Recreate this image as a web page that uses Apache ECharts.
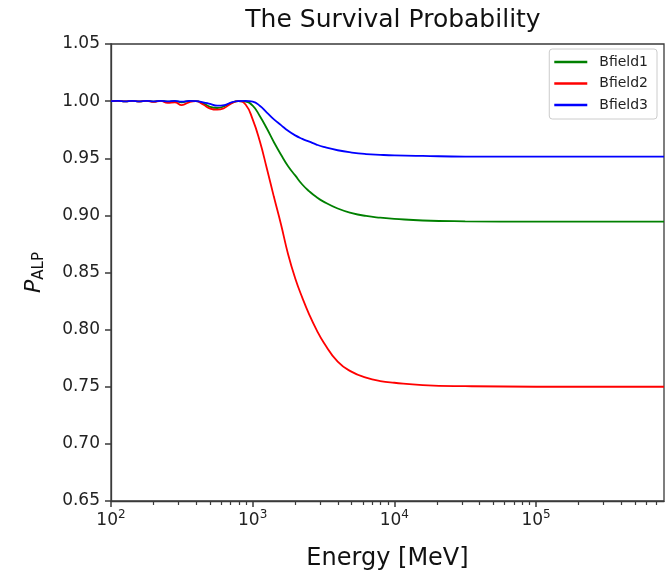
<!DOCTYPE html>
<html>
<head>
<meta charset="utf-8">
<title>The Survival Probability</title>
<script src="https://cdn.jsdelivr.net/npm/echarts@6/dist/echarts.min.js"></script>
<style>
  html, body { margin: 0; padding: 0; background: #fff; }
  #chart { width: 672px; height: 576px; }
</style>
</head>
<body>
<div id="chart"></div>
<script>
// Photon energies (MeV), log-spaced
const energy = [
  100, 112, 126, 141, 158, 178, 200, 224, 251, 282, 316, 355, 398, 447, 501, 562, 631, 708, 794, 891,
  1000, 1122, 1259, 1413, 1585, 1778, 1995, 2239, 2512, 2818, 3162,
  3981, 5012, 6310, 7943, 10000, 15849, 31623, 100000, 316228, 800000
];

// ALP survival probability for three magnetic field models
const bfield1 = [
  1.0, 1.0003, 0.9997, 1.0003, 0.9997, 1.0003, 0.9996, 1.0003, 0.9995, 1.0, 0.999, 1.0, 1.0, 0.998, 0.995, 0.994, 0.9955, 0.9985, 1.0, 0.9995,
  0.996, 0.987, 0.976, 0.964, 0.953, 0.943, 0.935, 0.927, 0.921, 0.916, 0.912,
  0.906, 0.902, 0.8995, 0.898, 0.897, 0.8955, 0.8948, 0.8945, 0.8945, 0.8945
];
const bfield2 = [
  1.0, 1.0003, 0.9997, 1.0003, 0.9996, 1.0003, 0.9993, 1.0002, 0.9985, 0.999, 0.9965, 0.999, 1.0, 0.997, 0.9935, 0.9925, 0.994, 0.998, 1.0, 0.997,
  0.984, 0.965, 0.941, 0.916, 0.892, 0.866, 0.845, 0.828, 0.813, 0.800, 0.789,
  0.772, 0.763, 0.758, 0.755, 0.7535, 0.7515, 0.7505, 0.750, 0.750, 0.750
];
const bfield3 = [
  1.0, 1.0003, 0.9998, 1.0003, 0.9998, 1.0003, 0.9998, 1.0003, 0.9997, 1.0002, 0.9995, 1.0002, 1.0, 0.999, 0.9975, 0.996, 0.9965, 0.999, 1.0, 1.0002,
  0.9995, 0.996, 0.990, 0.984, 0.979, 0.974, 0.970, 0.967, 0.9645, 0.962, 0.960,
  0.957, 0.955, 0.9537, 0.953, 0.9525, 0.952, 0.9515, 0.9515, 0.9515, 0.9515
];

const seriesNames = ['Bfield1', 'Bfield2', 'Bfield3'];
const seriesColors = ['#008000', '#ff0000', '#0000ff'];

// Axis ticks
const xMajorTicks = [100, 1000, 10000, 100000];
const xMinorTicks = [
  200, 300, 400, 500, 600, 700, 800, 900,
  2000, 3000, 4000, 5000, 6000, 7000, 8000, 9000,
  20000, 30000, 40000, 50000, 60000, 70000, 80000, 90000,
  200000, 300000, 400000, 500000, 600000, 700000
];
const yTickLabels = ['0.65', '0.70', '0.75', '0.80', '0.85', '0.90', '0.95', '1.00', '1.05'];

const FONT = 'DejaVu Sans';
const xMin = 100, xMax = 800000;
const AXIS_COLOR = '#3a3a3a';

const values = [bfield1, bfield2, bfield3];
const series = seriesNames.map((name, i) => ({
  name: name,
  type: 'line',
  xAxisIndex: 0,
  yAxisIndex: 0,
  data: energy.map((e, k) => [e, values[i][k]]),
  showSymbol: false,
  smooth: 0.5,
  lineStyle: { color: seriesColors[i], width: 1.8 },
  itemStyle: { color: seriesColors[i] },
  z: 3
}));

const chart = echarts.init(document.getElementById('chart'), null, { renderer: 'canvas' });
chart.setOption({
  animation: false,
  backgroundColor: '#fff',
  textStyle: { fontFamily: FONT },
  title: {
    text: 'The Survival Probability',
    left: 388,
    textAlign: 'center',
    top: 3,
    textStyle: { fontFamily: FONT, fontSize: 25, fontWeight: 'normal', color: '#111' }
  },
  grid: {
    left: 111, right: 8, top: 44, bottom: 74,
    show: true, borderColor: AXIS_COLOR, borderWidth: 1.3, backgroundColor: 'transparent'
  },
  legend: {
    data: seriesNames,
    orient: 'vertical',
    right: 15,
    top: 49,
    icon: 'rect',
    itemWidth: 33,
    itemHeight: 2.5,
    itemGap: 5.5,
    padding: [5, 9, 6, 5],
    borderColor: '#cccccc',
    borderWidth: 1,
    borderRadius: 3,
    backgroundColor: '#fff',
    textStyle: { fontFamily: FONT, fontSize: 14, color: '#222', lineHeight: 16, padding: [0, 0, 0, 7] }
  },
  xAxis: [
    {
      type: 'log',
      logBase: 10,
      min: xMin,
      max: xMax,
      name: 'Energy [MeV]',
      nameLocation: 'middle',
      nameGap: 46,
      nameTextStyle: { fontFamily: FONT, fontSize: 24, color: '#111' },
      axisLine: { show: true, onZero: false, lineStyle: { color: AXIS_COLOR, width: 1.3 } },
      axisTick: { show: true, inside: false, length: 6, customValues: xMajorTicks, lineStyle: { color: AXIS_COLOR, width: 1.5 } },
      axisLabel: {
        customValues: xMajorTicks,
        margin: 8,
        formatter: v => '{b|10}{s|' + Math.round(Math.log10(v)) + '}',
        rich: {
          b: { fontFamily: FONT, fontSize: 17, color: '#222', verticalAlign: 'bottom' },
          s: { fontFamily: FONT, fontSize: 12, color: '#222', verticalAlign: 'top', padding: [0, 0, 8, 0] }
        }
      },
      splitLine: { show: false },
      minorTick: { show: false }
    },
    {
      // minor ticks at 2..9 × 10^n, placed on a linear axis in log10 space
      type: 'value',
      min: Math.log10(xMin),
      max: Math.log10(xMax),
      position: 'bottom',
      axisLine: { show: true, onZero: false, lineStyle: { color: AXIS_COLOR, opacity: 0 } },
      axisTick: { show: true, inside: false, length: 4, customValues: xMinorTicks.map(Math.log10), lineStyle: { color: AXIS_COLOR, width: 1.2 } },
      axisLabel: { show: false },
      splitLine: { show: false }
    }
  ],
  yAxis: {
    type: 'value',
    min: 0.65,
    max: 1.05,
    interval: 0.05,
    name: '{p|P}{sub|ALP}',
    nameLocation: 'middle',
    nameRotate: 90,
    nameGap: 64,
    nameTextStyle: {
      rich: {
        p: { fontFamily: FONT, fontSize: 22, fontStyle: 'italic', color: '#111', verticalAlign: 'middle', lineHeight: 22 },
        sub: { fontFamily: FONT, fontSize: 15, color: '#111', verticalAlign: 'bottom', padding: [11, 0, 0, 0] }
      }
    },
    axisLine: { show: true, onZero: false, lineStyle: { color: AXIS_COLOR, width: 1.3 } },
    axisTick: { show: true, inside: false, length: 6, lineStyle: { color: AXIS_COLOR, width: 1.5 } },
    axisLabel: {
      margin: 11,
      fontFamily: FONT,
      fontSize: 17,
      color: '#222',
      formatter: v => yTickLabels[Math.round((v - 0.65) / 0.05)] || v.toFixed(2)
    },
    splitLine: { show: false }
  },
  series: series
});
</script>
</body>
</html>
